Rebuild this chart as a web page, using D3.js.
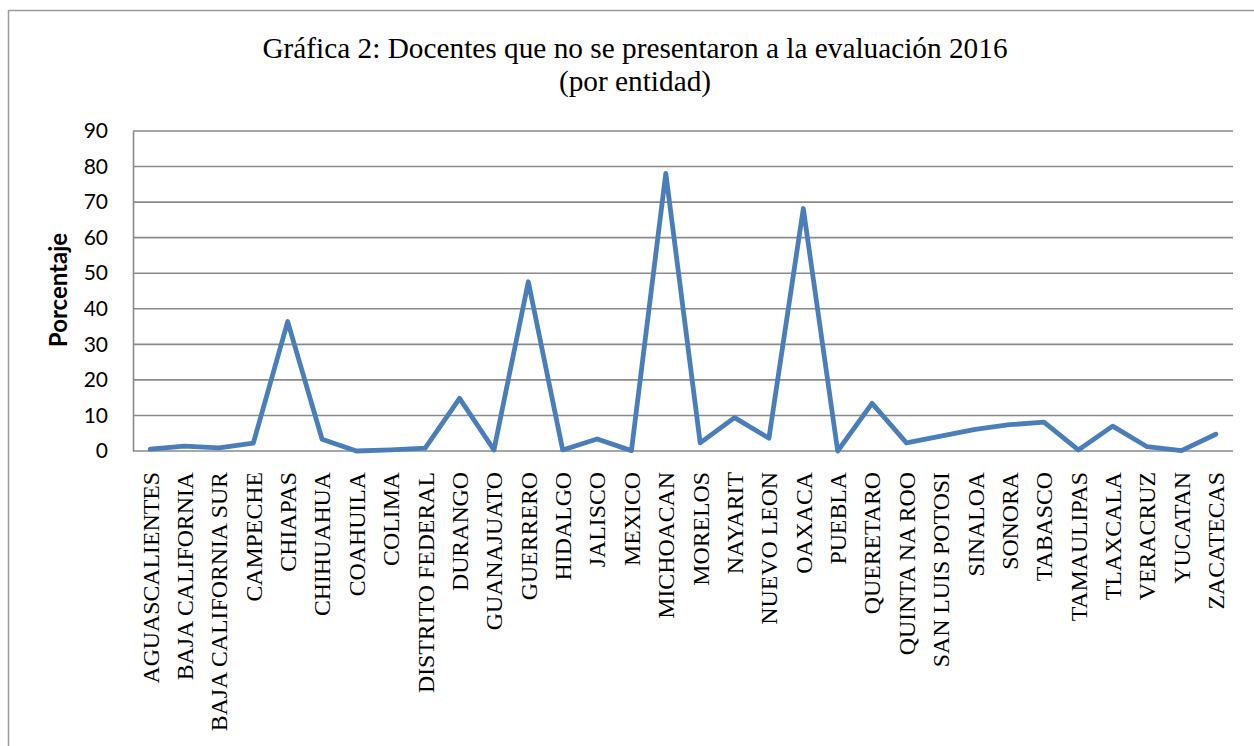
<!DOCTYPE html>
<html>
<head>
<meta charset="utf-8">
<script src="https://cdn.jsdelivr.net/npm/d3@7"></script>
<style>
  html, body { margin: 0; padding: 0; background: #fff; }
  svg { display: block; }
</style>
</head>
<body>
<svg id="chart" width="1254" height="746"></svg>
<script>
// Entidades federativas
const categories = [
  "AGUASCALIENTES", "BAJA CALIFORNIA", "BAJA CALIFORNIA SUR", "CAMPECHE",
  "CHIAPAS", "CHIHUAHUA", "COAHUILA", "COLIMA", "DISTRITO FEDERAL",
  "DURANGO", "GUANAJUATO", "GUERRERO", "HIDALGO", "JALISCO", "MEXICO",
  "MICHOACAN", "MORELOS", "NAYARIT", "NUEVO LEON", "OAXACA", "PUEBLA",
  "QUERETARO", "QUINTA NA ROO", "SAN LUIS POTOSI", "SINALOA", "SONORA",
  "TABASCO", "TAMAULIPAS", "TLAXCALA", "VERACRUZ", "YUCATAN", "ZACATECAS"
];

// Porcentaje de docentes que no se presentaron
const values = [
  0.5, 1.4, 0.9, 2.2,
  36.4, 3.3, 0.0, 0.3, 0.8,
  14.8, 0.3, 47.6, 0.3, 3.4, 0.1,
  78.1, 2.3, 9.4, 3.6, 68.2, 0.0,
  13.4, 2.3, 4.2, 6.1, 7.4,
  8.1, 0.3, 7.0, 1.2, 0.1, 4.7
];

const yTicks = [0, 10, 20, 30, 40, 50, 60, 70, 80, 90];
const titleLines = ["Gráfica 2: Docentes que no se presentaron a la evaluación 2016", "(por entidad)"];
const yTitle = "Porcentaje";

const svg = d3.select("#chart");
const plot = { left: 133, right: 1233, top: 131, bottom: 451 };

// Chart area border
svg.append("rect")
  .attr("x", 8.5).attr("y", 10.5)
  .attr("width", 1300).attr("height", 800)
  .attr("fill", "#fff")
  .attr("stroke", "#9a9a9a")
  .attr("stroke-width", 1.5);

const x = d3.scaleBand()
  .domain(categories)
  .range([plot.left, plot.right]);

const y = d3.scaleLinear()
  .domain([0, 90])
  .range([plot.bottom, plot.top]);

// Gridlines
svg.append("g")
  .selectAll("line")
  .data(yTicks)
  .join("line")
  .attr("x1", plot.left).attr("x2", plot.right)
  .attr("y1", d => y(d)).attr("y2", d => y(d))
  .attr("stroke", "#8a8a8a")
  .attr("stroke-width", 1.6);

// Y axis
const yAxis = svg.append("g")
  .attr("transform", `translate(${plot.left},0)`)
  .call(d3.axisLeft(y).tickValues(yTicks).tickSize(0).tickPadding(25));
yAxis.select(".domain").attr("stroke", "#8a8a8a").attr("stroke-width", 1.6);
yAxis.selectAll("text")
  .attr("font-family", "Lato, 'Open Sans', sans-serif")
  .attr("font-size", 21)
  .attr("fill", "#000");

// X axis labels
const xAxis = svg.append("g")
  .attr("transform", `translate(0,${plot.bottom})`)
  .call(d3.axisBottom(x).tickSize(0).tickPadding(0));
xAxis.select(".domain").remove();
xAxis.selectAll("text")
  .attr("font-family", "'Liberation Serif', 'Times New Roman', serif")
  .attr("font-size", 23.8)
  .attr("fill", "#000")
  .attr("text-anchor", "end")
  .attr("dy", "0.35em")
  .attr("transform", "translate(0,21) rotate(-90)");

// Series line
const line = d3.line()
  .x((d, i) => x(categories[i]) + x.bandwidth() / 2)
  .y(d => y(d));

svg.append("path")
  .datum(values)
  .attr("d", line)
  .attr("fill", "none")
  .attr("stroke", "#4a7ebb")
  .attr("stroke-width", 4.8)
  .attr("stroke-linejoin", "round")
  .attr("stroke-linecap", "round");

// Title
const title = svg.append("text")
  .attr("x", 635)
  .attr("y", 58)
  .attr("text-anchor", "middle")
  .attr("font-family", "'Liberation Serif', 'Times New Roman', serif")
  .attr("font-size", 29.3)
  .attr("fill", "#000");
title.selectAll("tspan")
  .data(titleLines)
  .join("tspan")
  .attr("x", 635)
  .attr("dy", (d, i) => i === 0 ? 0 : 33)
  .text(d => d);

// Y axis title
svg.append("text")
  .attr("transform", "translate(67,290) rotate(-90)")
  .attr("text-anchor", "middle")
  .attr("font-family", "Lato, 'Open Sans', sans-serif")
  .attr("font-weight", "bold")
  .attr("font-size", 24)
  .attr("fill", "#000")
  .text(yTitle);
</script>
</body>
</html>
